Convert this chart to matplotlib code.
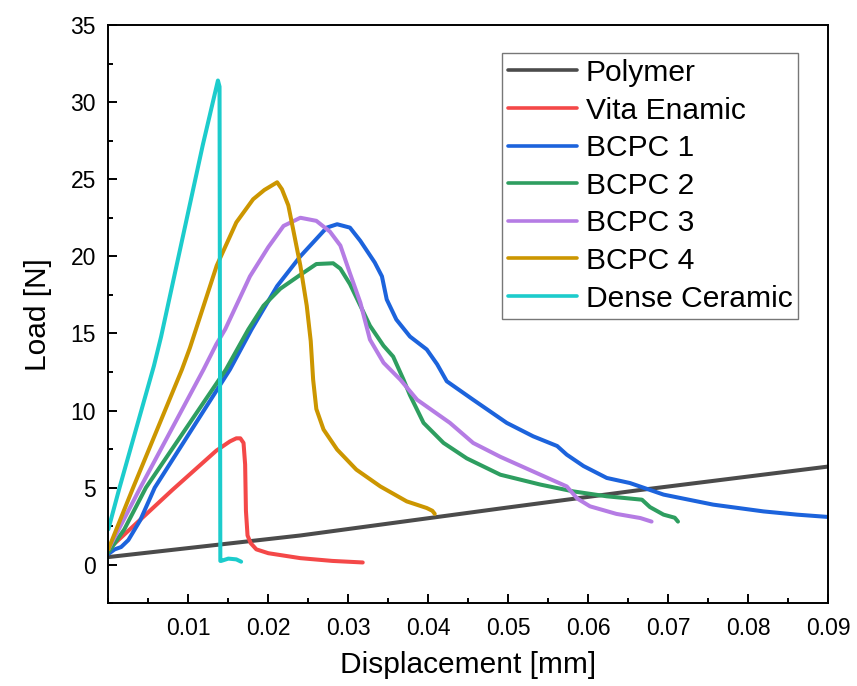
import matplotlib
matplotlib.use("Agg")
import matplotlib.pyplot as plt
from matplotlib.ticker import MultipleLocator

plt.rcParams['font.family'] = ['Liberation Sans', 'DejaVu Sans']

# Load-displacement curves (displacement in mm, load in N)
polymer_x = [0.0, 0.024, 0.049, 0.0665, 0.092]
polymer_y = [0.5, 1.9, 3.65, 4.85, 6.5]

vita_x = [0.0, 0.008, 0.0135, 0.0152, 0.0160, 0.0165, 0.0169, 0.0171, 0.0172,
          0.0174, 0.0178, 0.0185, 0.0200, 0.0240, 0.0280, 0.0318]
vita_y = [1.0, 4.85, 7.4, 8.0, 8.2, 8.2, 7.9, 6.5, 3.5,
          1.9, 1.4, 1.0, 0.75, 0.43, 0.25, 0.15]

bcpc1_x = [0.0, 0.0008, 0.0016, 0.0025, 0.004, 0.0058, 0.0152, 0.0179, 0.0211,
           0.024, 0.0273, 0.0286, 0.0302, 0.0315, 0.0333, 0.0342, 0.0348, 0.036,
           0.0377, 0.0398, 0.0411, 0.0423, 0.0456, 0.0498, 0.0531, 0.0561, 0.0573,
           0.0594, 0.0623, 0.0652, 0.0694, 0.0756, 0.0819, 0.0861, 0.0905]
bcpc1_y = [0.7, 1.0, 1.15, 1.6, 2.9, 5.0, 12.66, 15.26, 18.07,
           20.0, 21.86, 22.08, 21.86, 21.0, 19.6, 18.7, 17.2, 15.9,
           14.8, 13.96, 13.0, 11.9, 10.7, 9.2, 8.33, 7.7, 7.14,
           6.4, 5.63, 5.3, 4.55, 3.9, 3.46, 3.25, 3.08]

bcpc2_x = [0.0, 0.002, 0.0047, 0.0147, 0.0175, 0.0194, 0.0215, 0.024, 0.026,
           0.0281, 0.029, 0.0302, 0.0315, 0.0327, 0.0344, 0.0356, 0.0369, 0.0377,
           0.0394, 0.0419, 0.0448, 0.049, 0.054, 0.0581, 0.0623, 0.0667, 0.0677,
           0.0694, 0.0708, 0.0712]
bcpc2_y = [0.8, 2.3, 5.0, 12.66, 15.26, 16.8, 17.9, 18.8, 19.5,
           19.55, 19.2, 18.2, 16.8, 15.5, 14.2, 13.5, 12.0, 11.0,
           9.2, 7.9, 6.9, 5.84, 5.2, 4.76, 4.44, 4.22, 3.74,
           3.25, 3.05, 2.8]

bcpc3_x = [0.0, 0.004, 0.0119, 0.0135, 0.0146, 0.0177, 0.0200, 0.0219, 0.024,
           0.026, 0.0277, 0.029, 0.0302, 0.0315, 0.0327, 0.0344, 0.0365, 0.0386,
           0.0427, 0.0456, 0.049, 0.054, 0.0573, 0.0586, 0.0602, 0.0635, 0.0665,
           0.0679]
bcpc3_y = [1.0, 5.0, 12.66, 14.3, 15.26, 18.7, 20.6, 21.97, 22.5,
           22.3, 21.6, 20.7, 18.9, 17.0, 14.6, 13.1, 12.0, 10.7,
           9.2, 7.9, 7.0, 5.84, 5.08, 4.3, 3.79, 3.3, 3.03,
           2.8]

bcpc4_x = [0.0, 0.0031, 0.0092, 0.0102, 0.01355, 0.016, 0.0181, 0.0195, 0.0211,
           0.0217, 0.0225, 0.0231, 0.024, 0.0248, 0.0253, 0.0256, 0.026, 0.0269,
           0.0286, 0.031, 0.034, 0.0373, 0.0398, 0.0405, 0.0408]
bcpc4_y = [1.0, 5.0, 12.66, 14.07, 19.4, 22.2, 23.7, 24.3, 24.8,
           24.35, 23.3, 21.75, 19.4, 16.8, 14.5, 12.0, 10.1, 8.77,
           7.47, 6.17, 5.08, 4.11, 3.68, 3.5, 3.3]

dense_x = [0.0, 0.0014, 0.0057, 0.0066, 0.0118, 0.0137, 0.0139, 0.0140,
           0.0141, 0.0150, 0.0160, 0.0166]
dense_y = [2.3, 5.0, 12.9, 14.8, 27.2, 31.4, 31.0, 0.25,
           0.25, 0.4, 0.35, 0.2]

labels = ["Polymer", "Vita Enamic", "BCPC 1", "BCPC 2", "BCPC 3", "BCPC 4",
          "Dense Ceramic"]
colors = ["#4b4b4b", "#f44848", "#1c63dc", "#2e9e60", "#b57ce4", "#cc9600",
          "#1ccccc"]
series = [(polymer_x, polymer_y), (vita_x, vita_y), (bcpc1_x, bcpc1_y),
          (bcpc2_x, bcpc2_y), (bcpc3_x, bcpc3_y), (bcpc4_x, bcpc4_y),
          (dense_x, dense_y)]

fig = plt.figure(figsize=(8.57, 6.86), dpi=100)
ax = fig.add_axes([0.1264, 0.1205, 0.8402, 0.8431])

for (xs, ys), lab, col in zip(series, labels, colors):
    ax.plot(xs, ys, color=col, lw=2.9, label=lab,
            solid_capstyle='round', solid_joinstyle='round')

ax.set_xlim(0, 0.09)
ax.set_ylim(-2.5, 35)
ax.set_xticks([0.01, 0.02, 0.03, 0.04, 0.05, 0.06, 0.07, 0.08, 0.09])
ax.set_xticklabels(["0.01", "0.02", "0.03", "0.04", "0.05", "0.06", "0.07",
                    "0.08", "0.09"])
ax.set_yticks([0, 5, 10, 15, 20, 25, 30, 35])
ax.xaxis.set_minor_locator(MultipleLocator(0.005))
ax.yaxis.set_minor_locator(MultipleLocator(2.5))

ax.tick_params(which='both', direction='in', width=1.4, top=False, right=False,
               labelsize=16.5, colors='black')
ax.tick_params(which='major', length=6.5)
ax.tick_params(which='minor', length=3.6)
ax.tick_params(axis='x', pad=10)
ax.tick_params(axis='y', pad=9)
for sp in ax.spines.values():
    sp.set_linewidth(1.4)

ax.set_xlabel("Displacement [mm]", fontsize=21.5, labelpad=8)
ax.set_ylabel("Load [N]", fontsize=21.5, labelpad=13)

leg = ax.legend(loc='upper left', bbox_to_anchor=(0.547, 0.9516),
                borderaxespad=0, fontsize=21.6, frameon=True, fancybox=False,
                edgecolor='#555555', handlelength=2.3, handletextpad=0.28,
                borderpad=0.2, labelspacing=0.32)
leg.get_frame().set_linewidth(1.0)
for line in leg.get_lines():
    line.set_linewidth(2.6)

fig.savefig("out.png", dpi=100, facecolor='white')
